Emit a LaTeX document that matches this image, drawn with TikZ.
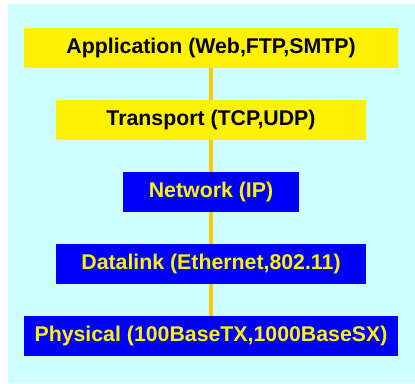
\documentclass[tikz,border=0pt]{standalone}
\usepackage{fontspec}
\setmainfont{Liberation Sans}
\begin{document}
\begin{tikzpicture}[x=1pt,y=-1pt,
  layer/.style={inner sep=0pt, minimum height=40pt, font=\fontsize{21.3}{24}\selectfont\bfseries},
  upper/.style={layer, fill=yellow, text=black},
  lower/.style={layer, fill=netblue, text=yellow},
  link/.style={draw=linkorange, line width=4pt}]
\definecolor{bgcyan}{RGB}{204,255,255}
\definecolor{netblue}{RGB}{0,0,255}
\definecolor{linkorange}{RGB}{255,204,0}
\useasboundingbox (0,0) rectangle (415,383);
\fill[bgcyan] (8,4) rectangle (415,383);
\node[upper, minimum width=374pt] (app) at (211,48) {Application (Web,FTP,SMTP)};
\node[upper, minimum width=310pt] (trans) at (211,120) {Transport (TCP,UDP)};
\node[lower, minimum width=176pt] (net) at (211,192) {Network (IP)};
\node[lower, minimum width=310pt] (dl) at (211,264) {Datalink (Ethernet,802.11)};
\node[lower, minimum width=374pt] (phy) at (211,336) {Physical (100BaseTX,1000BaseSX)};
\draw[link] (app.south) -- (trans.north);
\draw[link] (trans.south) -- (net.north);
\draw[link] (net.south) -- (dl.north);
\draw[link] (dl.south) -- (phy.north);
\end{tikzpicture}
\end{document}
